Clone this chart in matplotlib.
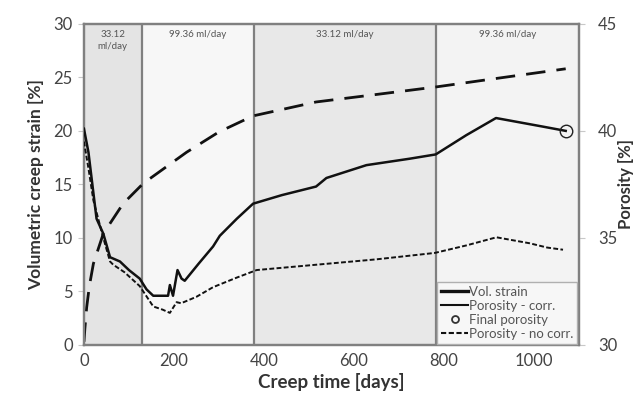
import matplotlib.pyplot as plt
from matplotlib.lines import Line2D

plt.rcParams['font.family'] = ['Lato', 'DejaVu Sans']

# creep stages (boundaries in days) and injection rates
stage_edges = [0, 128, 378, 782, 1100]
stage_labels = ["33.12\nml/day", "99.36 ml/day", "33.12 ml/day", "99.36 ml/day"]
stage_colors = ["#e4e4e4", "#f7f7f7", "#e8e8e8", "#f3f3f3"]

# volumetric creep strain [%] (left axis)
strain_t = [0, 2, 6, 12, 21, 43, 87, 132, 228, 300, 376, 516, 650, 782, 900, 1071]
strain = [0.3, 1.5, 3.5, 5.5, 7.6, 10.4, 13.2, 15.1, 18.0, 19.9, 21.4, 22.7, 23.4, 24.1, 24.8, 25.8]

# porosity corrected [%] (right axis)
por_t = [0, 10, 21, 28, 43, 58, 80, 100, 124, 139, 154, 170, 187, 191, 198, 208, 217, 224,
         255, 287, 302, 340, 376, 440, 516, 539, 628, 724, 782, 850, 916, 968, 1020, 1071]
por_corr = [40.1, 39.0, 37.1, 35.9, 35.2, 34.1, 33.9, 33.5, 33.1, 32.6, 32.3, 32.3, 32.3, 32.8,
            32.3, 33.5, 33.1, 33.0, 33.8, 34.6, 35.1, 35.9, 36.6, 37.0, 37.4, 37.8, 38.4, 38.7,
            38.9, 39.8, 40.6, 40.4, 40.2, 40.0]

# porosity without correction [%]
nc_t = [0, 10, 21, 43, 58, 65, 90, 124, 154, 175, 191, 200, 206, 216, 250, 287, 340, 384,
        517, 650, 780, 850, 917, 991, 1030, 1065]
por_nocorr = [39.5, 38.25, 36.75, 35.0, 33.9, 33.75, 33.4, 32.75, 31.8, 31.65, 31.5, 31.8, 32.0,
              31.95, 32.25, 32.7, 33.15, 33.5, 33.75, 34.0, 34.3, 34.65, 35.03, 34.75, 34.55, 34.45]

final_t = [1071]
final_por = [40.0]

fig = plt.figure(figsize=(6.36, 3.97), dpi=100)
ax = fig.add_axes([0.132, 0.131, 0.778, 0.809])
ax2 = ax.twinx()

for i in range(4):
    ax.axvspan(stage_edges[i], stage_edges[i + 1], color=stage_colors[i], zorder=0, lw=0)
    mid = (stage_edges[i] + stage_edges[i + 1]) / 2
    ax.text(mid, 29.4, stage_labels[i], ha="center", va="top", fontsize=7, color="#555555",
            linespacing=1.45)
for e in stage_edges[1:-1]:
    ax.axvline(e, color="#808080", lw=1.6, zorder=1)

ax.plot(strain_t, strain, color="#111111", lw=2.0, dashes=(7, 4), zorder=3)
ax2.plot(por_t, por_corr, color="#111111", lw=1.8, zorder=3)
ax2.plot(nc_t, por_nocorr, color="#111111", lw=1.4, dashes=(2.5, 1.2), zorder=3)
ax2.plot(final_t, final_por, "o", ms=9, mfc="none", mec="#222222", mew=1.0, zorder=4)

ax.set_xlim(0, 1100)
ax.set_ylim(0, 30)
ax2.set_ylim(30, 45)
ax.set_xticks([0, 200, 400, 600, 800, 1000])
ax.set_yticks([0, 5, 10, 15, 20, 25, 30])
ax2.set_yticks([30, 35, 40, 45])

for a in (ax, ax2):
    for s in a.spines.values():
        s.set_color("#808080")
        s.set_linewidth(1.6)
ax.tick_params(axis="x", length=0, labelsize=12, colors="#444444", pad=6)
ax.tick_params(axis="y", length=4, width=0.8, color="#c8c8c8", labelsize=12, labelcolor="#444444", pad=4)
ax2.tick_params(axis="y", length=4, width=0.8, color="#c8c8c8", labelsize=12, labelcolor="#444444", pad=10)

ax.set_xlabel("Creep time [days]", fontsize=13.5, fontweight="bold", color="#333333", labelpad=3)
ax.set_ylabel("Volumetric creep strain [%]", fontsize=12.5, fontweight="bold", color="#333333")
ax.yaxis.set_label_coords(-0.08, 0.5)
ax2.set_ylabel("Porosity [%]", fontsize=12, fontweight="bold", color="#333333")
ax2.yaxis.set_label_coords(1.08, 0.5)

handles = [
    Line2D([], [], color="#111111", lw=2.4),
    Line2D([], [], color="#111111", lw=1.5),
    Line2D([], [], ls="none", marker="o", ms=5, mfc="none", mec="#333333", mew=1.3),
    Line2D([], [], color="#111111", lw=1.5, dashes=(2.5, 1.2)),
]
labels = ["Vol. strain", "Porosity - corr.", "Final porosity", "Porosity - no corr."]
leg = ax2.legend(handles, labels, loc="lower right", fontsize=9.5, frameon=True, fancybox=False,
                 borderaxespad=0.1, handlelength=2.0, handletextpad=0.1, labelspacing=0.15,
                 borderpad=0.3, labelcolor="#555555")
leg.get_frame().set_edgecolor("#b0b0b0")
leg.get_frame().set_facecolor("#f7f7f7")
leg.get_frame().set_alpha(1)

fig.savefig("out.png", dpi=100)
